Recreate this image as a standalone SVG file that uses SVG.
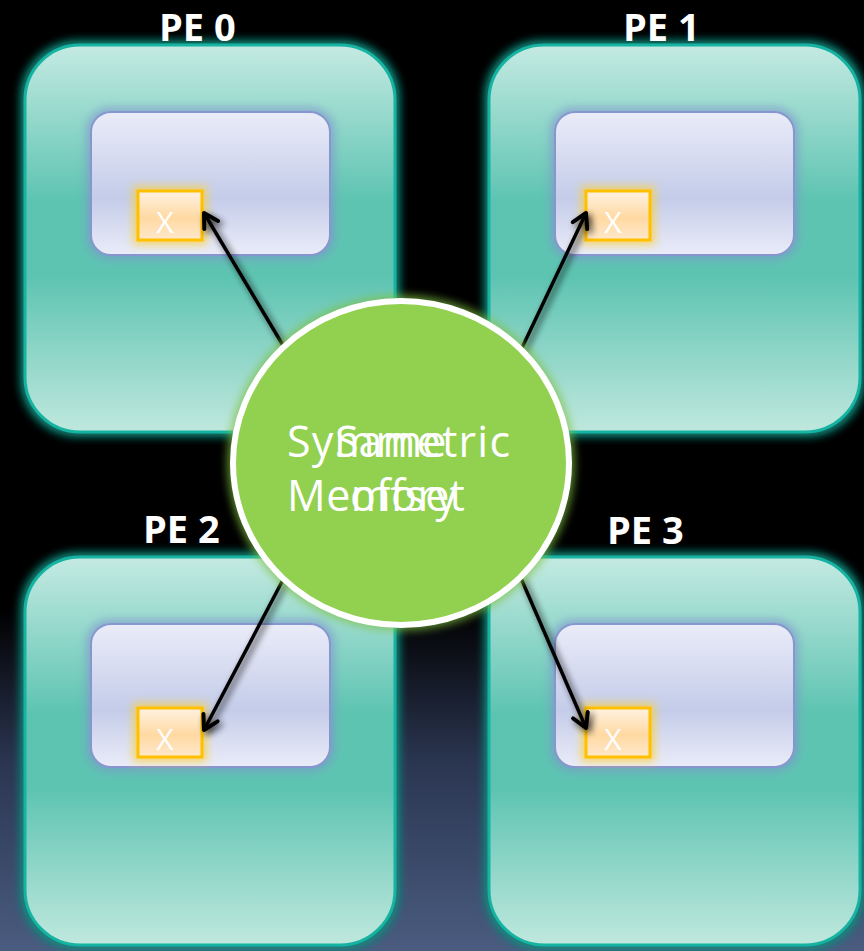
<svg xmlns="http://www.w3.org/2000/svg" width="864" height="951" viewBox="0 0 864 951">
<defs>
<linearGradient id="bg" x1="0" y1="0" x2="0" y2="1">
<stop offset="0" stop-color="#000"/>
<stop offset="0.64" stop-color="#000"/>
<stop offset="0.8" stop-color="#2a3550"/>
<stop offset="1" stop-color="#4a5c80"/>
</linearGradient>
<linearGradient id="pe" x1="0" y1="0" x2="0" y2="1">
<stop offset="0" stop-color="#c4eae2"/>
<stop offset="0.4" stop-color="#5ec4b2"/>
<stop offset="0.6" stop-color="#5ec4b2"/>
<stop offset="1" stop-color="#c0e8de"/>
</linearGradient>
<linearGradient id="inner" x1="0" y1="0" x2="0" y2="1">
<stop offset="0" stop-color="#eaecf8"/>
<stop offset="0.6" stop-color="#c4cce9"/>
<stop offset="1" stop-color="#eaecf8"/>
</linearGradient>
<linearGradient id="xg" x1="0" y1="0" x2="0" y2="1">
<stop offset="0" stop-color="#fff2e2"/>
<stop offset="0.55" stop-color="#ffd9a2"/>
<stop offset="1" stop-color="#ffe8cc"/>
</linearGradient>
<filter id="glowT" x="-10%" y="-10%" width="120%" height="120%">
<feGaussianBlur stdDeviation="4"/>
</filter>
<filter id="glowS" x="-20%" y="-20%" width="140%" height="140%">
<feGaussianBlur stdDeviation="4"/>
</filter>
<filter id="shadow" x="-30%" y="-30%" width="160%" height="160%">
<feGaussianBlur in="SourceAlpha" stdDeviation="3.5"/>
<feOffset dx="3" dy="3" result="b"/>
<feComponentTransfer><feFuncA type="linear" slope="0.8"/></feComponentTransfer>
<feMerge><feMergeNode/><feMergeNode in="SourceGraphic"/></feMerge>
</filter>
<marker id="arr" viewBox="0 0 20 20" refX="17" refY="10" markerWidth="20" markerHeight="20" markerUnits="userSpaceOnUse" orient="auto">
<path d="M3,2 L17,10 L3,18" fill="none" stroke="#000" stroke-width="4" stroke-linecap="round" stroke-linejoin="round"/>
</marker>
</defs>
<style>
.peGlow{fill:#0e8a7c;filter:url(#glowT);}
.pe{fill:url(#pe);stroke:#16b3a2;stroke-width:3;}
.inGlow{fill:#7f93cc;opacity:0.6;filter:url(#glowS);}
.inner{fill:url(#inner);stroke:#8896d0;stroke-width:2;}
.xGlow{fill:#ffd030;opacity:0.7;filter:url(#glowS);}
.xbox{fill:url(#xg);stroke:#ffc000;stroke-width:3;}
.xt{font-family:"Open Sans","Liberation Sans",sans-serif;font-size:30px;fill:#fff;text-anchor:middle;}
.lbl{font-family:"Open Sans","Liberation Sans",sans-serif;font-weight:bold;font-size:38px;fill:#fff;}
.ct{font-family:"Open Sans","Liberation Sans",sans-serif;font-size:43px;font-weight:500;fill:#fff;}
.conn{stroke:#000;stroke-width:3.5;fill:none;marker-end:url(#arr);}
</style>
<rect x="0" y="0" width="864" height="951" fill="url(#bg)"/>

<g id="pe0">
<rect class="peGlow" x="20" y="40" width="380" height="397" rx="58"/>
<rect class="pe" x="25" y="45" width="370" height="387" rx="55"/>
<text class="lbl" x="159" y="41">PE 0</text>
<rect class="inGlow" x="86" y="107" width="249" height="153" rx="24"/>
<rect class="inner" x="91" y="112" width="239" height="143" rx="20"/>
<rect class="xGlow" x="133" y="186" width="74" height="59"/>
<rect class="xbox" x="138" y="191" width="64" height="49"/>
<text class="xt" x="165" y="233">X</text>
</g>

<g id="pe1">
<rect class="peGlow" x="484" y="40" width="381" height="397" rx="58"/>
<rect class="pe" x="489" y="45" width="371" height="387" rx="55"/>
<text class="lbl" x="623" y="41">PE 1</text>
<rect class="inGlow" x="550" y="107" width="249" height="153" rx="24"/>
<rect class="inner" x="555" y="112" width="239" height="143" rx="20"/>
<rect class="xGlow" x="581" y="186" width="74" height="59"/>
<rect class="xbox" x="586" y="191" width="64" height="49"/>
<text class="xt" x="613" y="233">X</text>
</g>

<g id="pe2">
<rect class="peGlow" x="20" y="552" width="380" height="398" rx="58"/>
<rect class="pe" x="25" y="557" width="370" height="388" rx="55"/>
<text class="lbl" x="143" y="543">PE 2</text>
<rect class="inGlow" x="86" y="619" width="249" height="153" rx="24"/>
<rect class="inner" x="91" y="624" width="239" height="143" rx="20"/>
<rect class="xGlow" x="133" y="703" width="74" height="59"/>
<rect class="xbox" x="138" y="708" width="64" height="49"/>
<text class="xt" x="165" y="750">X</text>
</g>

<g id="pe3">
<rect class="peGlow" x="484" y="552" width="381" height="398" rx="58"/>
<rect class="pe" x="489" y="557" width="371" height="388" rx="55"/>
<text class="lbl" x="607" y="544">PE 3</text>
<rect class="inGlow" x="550" y="619" width="249" height="153" rx="24"/>
<rect class="inner" x="555" y="624" width="239" height="143" rx="20"/>
<rect class="xGlow" x="581" y="703" width="74" height="59"/>
<rect class="xbox" x="586" y="708" width="64" height="49"/>
<text class="xt" x="613" y="750">X</text>
</g>

<g id="connectors" filter="url(#shadow)">
<line class="conn" x1="287" y1="352" x2="204" y2="213"/>
<line class="conn" x1="520" y1="352" x2="586" y2="213"/>
<line class="conn" x1="285" y1="576" x2="204" y2="730"/>
<line class="conn" x1="520" y1="576" x2="586" y2="728"/>
</g>

<g id="center">
<ellipse cx="401" cy="463" rx="174" ry="168" fill="#7ec040" opacity="0.7" filter="url(#glowS)"/>
<ellipse cx="401" cy="463" rx="168" ry="162" fill="#92d050" stroke="#fff" stroke-width="6"/>
<text class="ct" x="287" y="457" textLength="223">Symmetric</text>
<text class="ct" x="287" y="511" textLength="170">Memory</text>
<text class="ct" x="335" y="457">Same</text>
<text class="ct" x="350" y="511">offset</text>
</g>
</svg>
